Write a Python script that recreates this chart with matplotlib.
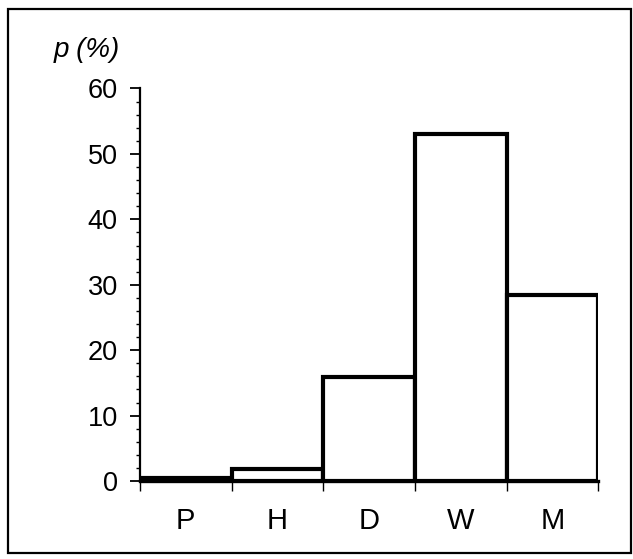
import matplotlib
matplotlib.use('Agg')
import matplotlib.pyplot as plt
from matplotlib.patches import Rectangle
from matplotlib.ticker import MultipleLocator

# values (percent)
categories = ['P', 'H', 'D', 'W', 'M']
p_values = [0.4, 1.8, 15.9, 53.1, 28.4]
y_ticks = [0, 10, 20, 30, 40, 50, 60]

plt.rcParams['font.family'] = ['Liberation Sans', 'DejaVu Sans']

fig = plt.figure(figsize=(6.33, 5.59), dpi=100)
ax = fig.add_axes([0.221, 0.1395, 0.724, 0.7022])

x = list(range(len(categories)))
ax.bar(x, p_values, width=1.0, align='edge', facecolor='white',
       edgecolor='black', linewidth=3)

ax.set_xlim(0, len(categories))
ax.set_ylim(0, 60)
ax.set_yticks(y_ticks)
ax.yaxis.set_minor_locator(MultipleLocator(2))

# ticks at the bar edges, labels in the middle of each bar
ax.set_xticks(range(len(categories) + 1))
ax.set_xticklabels([])
ax.set_xticks([i + 0.5 for i in x], minor=True)
ax.set_xticklabels(categories, minor=True)
ax.tick_params(axis='x', which='major', direction='out', length=7, width=1)
ax.tick_params(axis='x', which='minor', length=0, pad=19, labelsize=21)
ax.tick_params(axis='y', which='major', direction='out', length=7, width=1.3,
               pad=9, labelsize=19.5)
ax.tick_params(axis='y', which='minor', direction='out', length=3, width=1)

for s in ['top', 'right']:
    ax.spines[s].set_visible(False)
ax.spines['left'].set_linewidth(1.6)
ax.spines['bottom'].set_linewidth(2.4)

fig.text(54 / 633, 1 - 50 / 559, 'p (%)', fontsize=20, style='italic',
         ha='left', va='center')

# frame around the whole picture
fig.patches.append(Rectangle((8 / 633, 1 - 553 / 559), 623 / 633, 544 / 559,
                             transform=fig.transFigure, fill=False,
                             edgecolor='black', linewidth=1.6))

fig.savefig('out.png', dpi=100)
